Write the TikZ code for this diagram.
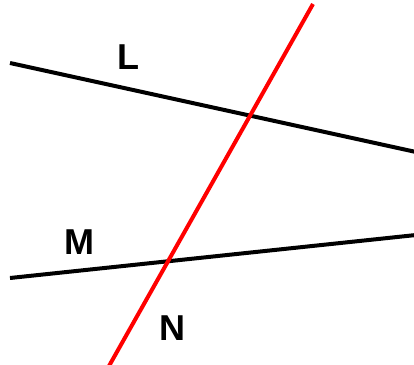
\documentclass[tikz,border=0pt]{standalone}
\usepackage{fontspec}
\setmainfont{Liberation Sans}
\begin{document}
\begin{tikzpicture}[x=1pt,y=-1pt,
  blackline/.style={line width=4pt,black},
  redline/.style={line width=4pt,red},
  lbl/.style={inner sep=0pt,font=\fontsize{36}{40}\selectfont\bfseries}]
\useasboundingbox (0,0) rectangle (414,364);
\fill[white] (0,0) rectangle (414,364);
\coordinate (L1) at (10,63);
\coordinate (L2) at (416,152);
\coordinate (M1) at (10,278);
\coordinate (M2) at (416,235);
\coordinate (N1) at (313,4);
\coordinate (N2) at (109,366);
\draw[blackline] (L1) -- (L2);
\draw[blackline] (M1) -- (M2);
\draw[redline] (N1) -- (N2);
\node[lbl] (labL) at (128,57) {L};
\node[lbl] (labM) at (79,242) {M};
\node[lbl] (labN) at (172,328) {N};
\end{tikzpicture}
\end{document}
